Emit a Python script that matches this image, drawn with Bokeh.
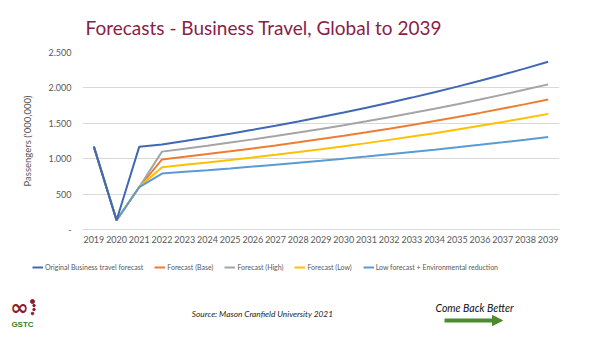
from bokeh.plotting import figure
from bokeh.models import Range1d, FixedTicker, Legend, LegendItem, Arrow, NormalHead
from bokeh.layouts import column
from bokeh.core.properties import value
from bokeh.embed import file_html
from bokeh.resources import INLINE

years = list(range(2019, 2040))
original = [1170, 130, 1170, 1200, 1249, 1300, 1353, 1408, 1466, 1525, 1588, 1653, 1720, 1790, 1863, 1939, 2018, 2101, 2187, 2276, 2369]
base = [1170, 130, 600, 990, 1027, 1065, 1104, 1145, 1187, 1231, 1277, 1324, 1373, 1424, 1477, 1531, 1588, 1647, 1708, 1771, 1837]
high = [1170, 130, 600, 1100, 1141, 1184, 1228, 1273, 1321, 1370, 1421, 1474, 1529, 1586, 1645, 1707, 1770, 1836, 1905, 1976, 2050]
low = [1170, 130, 600, 880, 913, 946, 981, 1018, 1055, 1094, 1135, 1177, 1220, 1266, 1312, 1361, 1411, 1464, 1518, 1574, 1633]
env = [1170, 130, 600, 790, 814, 838, 863, 889, 916, 944, 972, 1001, 1031, 1063, 1095, 1127, 1161, 1196, 1232, 1269, 1307]

series_names = ["Original Business travel forecast", "Forecast (Base)", "Forecast (High)", "Forecast (Low)", "Low forecast + Environmental reduction"]
series_values = [original, base, high, low, env]
colors = ["#4068B4", "#ED7D31", "#A5A5A5", "#FFC000", "#5B9BD5"]
draw_order = [1, 2, 3, 4, 0]

y_ticks = [0, 500, 1000, 1500, 2000, 2500]
y_tick_labels = ["-", "500", "1.000", "1.500", "2.000", "2.500"]

title_text = "Forecasts - Business Travel, Global to 2039"
source_text = "Source: Mason Cranfield University 2021"

FONT = "Lato"
TXT = "#595959"


def blank(height):
    b = figure(width=600, height=height, x_range=Range1d(0, 600), y_range=Range1d(0, height),
               toolbar_location=None, output_backend="svg", min_border=0)
    b.frame_align = False
    b.axis.visible = False
    b.grid.visible = False
    b.outline_line_color = None
    return b


# header: y = 48 - screen_y
hdr = blank(48)
hdr.text(x=[85], y=[48 - 27], text=[title_text], text_font=value(FONT), text_font_size="19px",
         text_color="#8A1E47", text_align="left", text_baseline="middle")

p = figure(width=600, height=207, x_range=Range1d(2018.5, 2039.5), y_range=Range1d(0, 2500),
           toolbar_location=None, output_backend="svg",
           min_border_left=82, min_border_right=41, min_border_top=4, min_border_bottom=26)
p.frame_align = False

p.outline_line_color = None
p.xgrid.grid_line_color = None
p.ygrid.grid_line_color = "#D9D9D9"
p.ygrid.ticker = FixedTicker(ticks=y_ticks)

p.xaxis.ticker = FixedTicker(ticks=years)
p.xaxis.axis_line_color = "#D9D9D9"
p.xaxis.major_tick_line_color = None
p.xaxis.minor_tick_line_color = None
p.xaxis.major_tick_out = 0
p.xaxis.major_label_text_font = FONT
p.xaxis.major_label_text_font_size = "9px"
p.xaxis.major_label_text_color = TXT
p.xaxis.major_label_standoff = 6

p.yaxis.ticker = FixedTicker(ticks=y_ticks)
p.yaxis.major_label_overrides = {t: l for t, l in zip(y_ticks, y_tick_labels)}
p.yaxis.axis_line_color = None
p.yaxis.major_tick_line_color = None
p.yaxis.minor_tick_line_color = None
p.yaxis.major_tick_out = 0
p.yaxis.major_label_text_font = FONT
p.yaxis.major_label_text_font_size = "9px"
p.yaxis.major_label_text_color = TXT
p.yaxis.major_label_standoff = 11
p.yaxis.axis_label = "Passengers ('000,000)"
p.yaxis.axis_label_text_font = FONT
p.yaxis.axis_label_text_font_size = "9.5px"
p.yaxis.axis_label_text_font_style = "normal"
p.yaxis.axis_label_text_color = TXT
p.yaxis.axis_label_standoff = 12

for i in draw_order:
    p.line(years, series_values[i], line_color=colors[i], line_width=2)

# footer (legend + source + logos); y = 337 - screen_y
H = 337
f = blank(82)

items = []
for name, col in zip(series_names, colors):
    r = f.line([float("nan")], [float("nan")], line_color=col, line_width=2)
    items.append(LegendItem(label=name, renderers=[r]))
legend = Legend(items=items, orientation="horizontal", location=(32, 66),
                glyph_width=11, glyph_height=8, label_standoff=2, spacing=11,
                padding=0, margin=0, border_line_color=None, background_fill_alpha=0,
                label_text_font=FONT, label_text_font_size="7px", label_text_color=TXT)
f.add_layout(legend)

f.text(x=[262], y=[H - 313], text=[source_text],
       text_font=value(FONT), text_font_style="italic", text_font_size="8.3px",
       text_color="#222222", text_align="center", text_baseline="middle")
f.text(x=[474], y=[H - 307], text=["Come Back Better"],
       text_font=value(FONT), text_font_style="italic", text_font_size="10.5px",
       text_color="#111111", text_align="center", text_baseline="middle")
f.add_layout(Arrow(end=NormalHead(size=10, fill_color="#4E8B2E", line_color="#4E8B2E"),
                   x_start=444, y_start=H - 320, x_end=502, y_end=H - 320,
                   line_color="#4E8B2E", line_width=4))
f.text(x=[19], y=[H - 307], text=["\u221e"], text_font=value("DejaVu Sans"), text_font_style="bold",
       text_font_size="22px", text_color="#8B1C2C", text_align="center", text_baseline="middle")
f.scatter(x=[32, 33.5, 33.5, 32], y=[H - 301, H - 305, H - 309, H - 313], size=[4, 2.5, 2.5, 2.5],
          color="#8B1C2C")
f.text(x=[22], y=[H - 324], text=["GSTC"], text_font=value("Liberation Sans"), text_font_style="bold",
       text_font_size="8px", text_color="#2E7D32", text_align="center", text_baseline="middle")

layout = column(hdr, p, f, spacing=0)
open("out.html", "w").write(file_html(layout, INLINE))
